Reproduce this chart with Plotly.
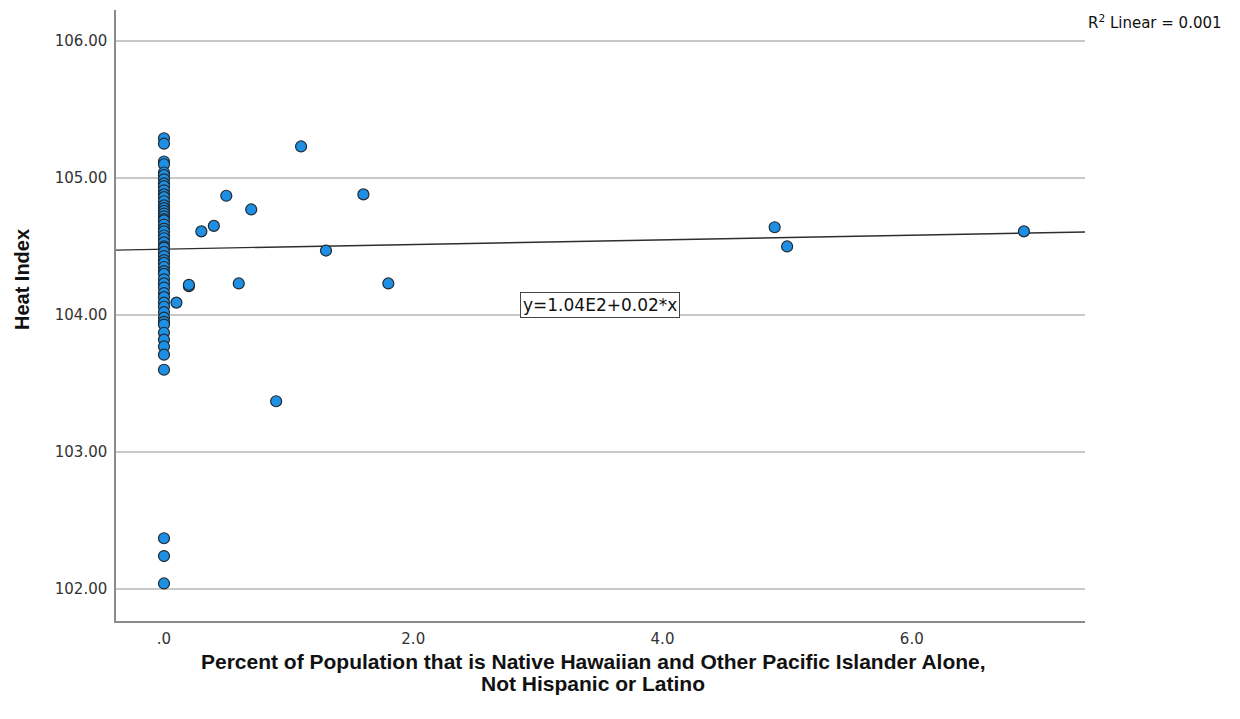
import numpy as np
import plotly.graph_objects as go

# Counties with no Native Hawaiian / Pacific Islander population (x = 0)
zero_pct_heat = [105.29, 105.25, 105.12, 105.10, 105.04, 105.02, 104.99, 104.96,
                 104.94, 104.91, 104.88, 104.86, 104.83, 104.80, 104.78, 104.76,
                 104.74, 104.72, 104.70, 104.69, 104.66, 104.63, 104.61, 104.58,
                 104.56, 104.53, 104.50, 104.49, 104.46, 104.43, 104.40, 104.38,
                 104.35, 104.32, 104.30, 104.26, 104.23, 104.20, 104.16, 104.13,
                 104.09, 104.06, 104.02, 103.98, 103.95, 103.93, 103.87, 103.82,
                 103.77, 103.71, 103.60, 102.37, 102.24, 102.04]

# Counties with a non-zero share
pct_nhpi = [0.1, 0.2, 0.2, 0.3, 0.4, 0.5, 0.6, 0.7, 0.9, 1.1, 1.3, 1.6, 1.8, 4.9, 5.0, 6.9]
heat_nhpi = [104.09, 104.21, 104.22, 104.61, 104.65, 104.87, 104.23, 104.77,
             103.37, 105.23, 104.47, 104.88, 104.23, 104.64, 104.50, 104.61]

# Linear fit reported by the analysis
fit_intercept = 104.48
fit_slope = 0.017
r_squared = 0.001

x_ticks = [0, 2, 4, 6]
x_tick_labels = [".0", "2.0", "4.0", "6.0"]
y_ticks = [102, 103, 104, 105, 106]
y_tick_labels = ["102.00", "103.00", "104.00", "105.00", "106.00"]

x_title_lines = ["Percent of Population that is Native Hawaiian and Other Pacific Islander Alone,",
                 "Not Hispanic or Latino"]
y_title = "Heat Index"

x_range = [-0.385, 7.39]
y_range = [101.766, 106.226]

x_all = [0.0] * len(zero_pct_heat) + pct_nhpi
y_all = zero_pct_heat + heat_nhpi

fig = go.Figure()

line_x = np.array(x_range)
fig.add_trace(go.Scatter(
    x=line_x, y=fit_intercept + fit_slope * line_x,
    mode="lines", line=dict(color="#2e2e2e", width=1.3),
    hoverinfo="skip", showlegend=False,
))

fig.add_trace(go.Scatter(
    x=x_all, y=y_all, mode="markers",
    marker=dict(size=11, color="#1E8FE3", line=dict(color="#1f2a33", width=1.2)),
    showlegend=False,
))

eq_text = "y={:.2E}+{:.2f}*x".format(fit_intercept, fit_slope).replace("E+0", "E")
fig.add_annotation(
    x=3.5, y=104.07, xref="x", yref="y", text=eq_text, showarrow=False,
    font=dict(family="DejaVu Sans", size=17, color="#111"),
    bgcolor="white", bordercolor="#444", borderwidth=1, borderpad=2,
)

fig.add_annotation(
    xref="paper", yref="paper", x=1, y=0.980, xanchor="left", yanchor="middle",
    xshift=1, text="R<sup>2</sup> Linear = {:.3f}".format(r_squared), showarrow=False,
    font=dict(family="DejaVu Sans", size=15, color="#111"),
)

fig.add_annotation(
    xref="paper", yref="paper", x=0, y=0.558, xshift=-107, textangle=-90,
    text="<b>{}</b>".format(y_title), showarrow=False,
    font=dict(family="Liberation Sans", size=20, color="#111"),
)

for i, line in enumerate(x_title_lines):
    fig.add_annotation(
        xref="paper", yref="paper", x=0.4925, y=0, yshift=-40 - 22 * i, yanchor="middle",
        text="<b>{}</b>".format(line), showarrow=False,
        font=dict(family="Liberation Sans", size=21, color="#111"),
    )

fig.update_layout(
    width=1240, height=719,
    margin=dict(l=116, r=155, t=10, b=98),
    plot_bgcolor="white", paper_bgcolor="white",
    showlegend=False,
)

fig.update_xaxes(
    range=x_range, tickvals=x_ticks, ticktext=x_tick_labels,
    showgrid=False, zeroline=False, showline=True, linecolor="#8a8a8a", linewidth=1.5,
    ticks="", ticklabelstandoff=3,
    tickfont=dict(family="DejaVu Sans", size=15, color="#333"),
)
fig.update_yaxes(
    range=y_range, tickvals=y_ticks, ticktext=y_tick_labels,
    showgrid=True, gridcolor="#c8c8c8", gridwidth=1.5, zeroline=False,
    showline=True, linecolor="#8a8a8a", linewidth=1.5,
    ticks="", ticklabelstandoff=4,
    tickfont=dict(family="DejaVu Sans", size=15, color="#333"),
)

fig.write_html("out.html")
